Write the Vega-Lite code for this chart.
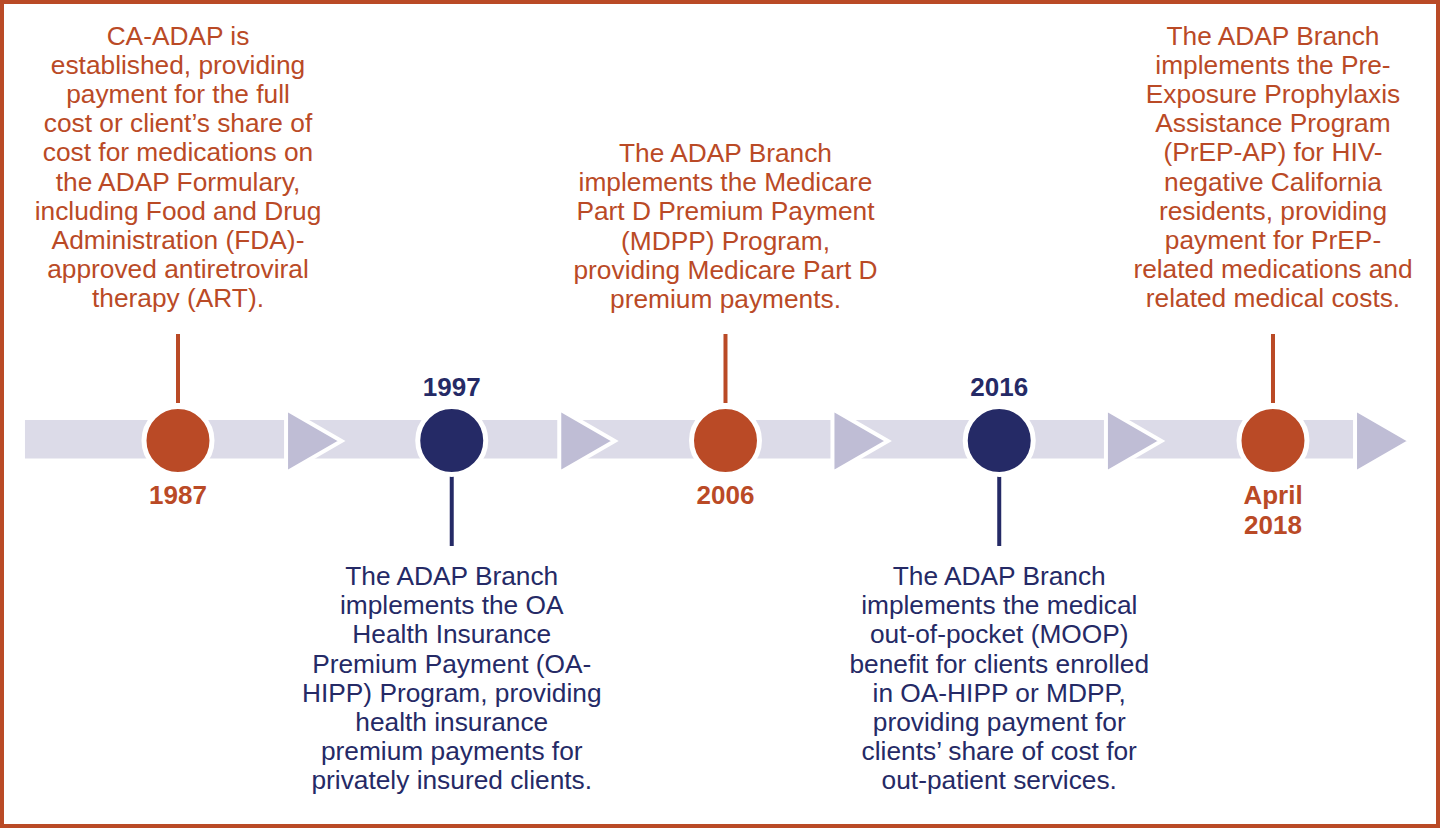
{
  "$schema": "https://vega.github.io/schema/vega-lite/v6.json",
  "width": 1440,
  "height": 828,
  "autosize": {"type": "fit", "contains": "padding"},
  "padding": 0,
  "background": "white",
  "config": {"view": {"stroke": "#BA4A26", "strokeWidth": 8}, "font": "Liberation Sans"},
  "datasets": {
    "events": [
      {"order": 0, "year": "1987", "label": ["1987"], "side": "above", "text": ["CA-ADAP is", "established, providing", "payment for the full", "cost or client’s share of", "cost for medications on", "the ADAP Formulary,", "including Food and Drug", "Administration (FDA)-", "approved antiretroviral", "therapy (ART)."]},
      {"order": 1, "year": "1997", "label": ["1997"], "side": "below", "text": ["The ADAP Branch", "implements the OA", "Health Insurance", "Premium Payment (OA-", "HIPP) Program, providing", "health insurance", "premium payments for", "privately insured clients."]},
      {"order": 2, "year": "2006", "label": ["2006"], "side": "above", "text": ["The ADAP Branch", "implements the Medicare", "Part D Premium Payment", "(MDPP) Program,", "providing Medicare Part D", "premium payments."]},
      {"order": 3, "year": "2016", "label": ["2016"], "side": "below", "text": ["The ADAP Branch", "implements the medical", "out-of-pocket (MOOP)", "benefit for clients enrolled", "in OA-HIPP or MDPP,", "providing payment for", "clients’ share of cost for", "out-patient services."]},
      {"order": 4, "year": "April 2018", "label": ["April", "2018"], "side": "above", "text": ["The ADAP Branch", "implements the Pre-", "Exposure Prophylaxis", "Assistance Program", "(PrEP-AP) for HIV-", "negative California", "residents, providing", "payment for PrEP-", "related medications and", "related medical costs."]}
    ],
    "arrows": [
      {"after": "1987", "pos": 0.496},
      {"after": "1997", "pos": 1.494},
      {"after": "2006", "pos": 2.492},
      {"after": "2016", "pos": 3.491},
      {"after": "April 2018", "pos": 4.401}
    ],
    "track": [{"start": -0.559, "end": 4.354}]
  },
  "layer": [
    {
      "data": {"name": "track"},
      "mark": {"type": "rect", "fill": "#DCDBE8"},
      "encoding": {
        "x": {"field": "start", "type": "quantitative", "scale": {"domain": [-0.6502, 4.6101], "nice": false, "zero": false}, "axis": null},
        "x2": {"field": "end"},
        "y": {"datum": 20, "type": "quantitative", "scale": {"domain": [-388, 440], "nice": false, "zero": false}, "axis": null},
        "y2": {"datum": -18.5}
      }
    },
    {
      "data": {"name": "arrows"},
      "mark": {"type": "point", "shape": "triangle-right", "filled": true, "fill": "#BFBDD5", "stroke": "white", "strokeWidth": 4, "size": 4096, "opacity": 1},
      "encoding": {
        "x": {"field": "pos", "type": "quantitative", "scale": {"domain": [-0.6502, 4.6101], "nice": false, "zero": false}, "axis": null},
        "y": {"datum": -1, "type": "quantitative", "scale": {"domain": [-388, 440], "nice": false, "zero": false}, "axis": null}
      }
    },
    {
      "data": {"name": "events"},
      "transform": [{"filter": "datum.side === 'above'"}],
      "mark": {"type": "rule", "strokeWidth": 4},
      "encoding": {
        "x": {"field": "order", "type": "quantitative", "scale": {"domain": [-0.6502, 4.6101], "nice": false, "zero": false}, "axis": null},
        "y": {"datum": 106, "type": "quantitative", "scale": {"domain": [-388, 440], "nice": false, "zero": false}, "axis": null},
        "y2": {"datum": 37},
        "color": {"field": "side", "type": "nominal", "scale": {"domain": ["above", "below"], "range": ["#BA4A26", "#252A66"]}, "legend": null}
      }
    },
    {
      "data": {"name": "events"},
      "transform": [{"filter": "datum.side === 'below'"}],
      "mark": {"type": "rule", "strokeWidth": 4},
      "encoding": {
        "x": {"field": "order", "type": "quantitative", "scale": {"domain": [-0.6502, 4.6101], "nice": false, "zero": false}, "axis": null},
        "y": {"datum": -36, "type": "quantitative", "scale": {"domain": [-388, 440], "nice": false, "zero": false}, "axis": null},
        "y2": {"datum": -106},
        "color": {"field": "side", "type": "nominal", "scale": {"domain": ["above", "below"], "range": ["#BA4A26", "#252A66"]}, "legend": null}
      }
    },
    {
      "data": {"name": "events"},
      "mark": {"type": "point", "shape": "circle", "filled": true, "size": 4624, "stroke": "white", "strokeWidth": 5, "opacity": 1},
      "encoding": {
        "x": {"field": "order", "type": "quantitative", "scale": {"domain": [-0.6502, 4.6101], "nice": false, "zero": false}, "axis": null},
        "y": {"datum": -0.5, "type": "quantitative", "scale": {"domain": [-388, 440], "nice": false, "zero": false}, "axis": null},
        "color": {"field": "side", "type": "nominal", "scale": {"domain": ["above", "below"], "range": ["#BA4A26", "#252A66"]}, "legend": null}
      }
    },
    {
      "data": {"name": "events"},
      "transform": [{"filter": "datum.side === 'above'"}],
      "mark": {"type": "text", "fontSize": 26, "fontWeight": "bold", "align": "center", "baseline": "alphabetic", "lineHeight": 29.5},
      "encoding": {
        "x": {"field": "order", "type": "quantitative", "scale": {"domain": [-0.6502, 4.6101], "nice": false, "zero": false}, "axis": null},
        "y": {"datum": -64, "type": "quantitative", "scale": {"domain": [-388, 440], "nice": false, "zero": false}, "axis": null},
        "text": {"field": "label"},
        "color": {"field": "side", "type": "nominal", "scale": {"domain": ["above", "below"], "range": ["#BA4A26", "#252A66"]}, "legend": null}
      }
    },
    {
      "data": {"name": "events"},
      "transform": [{"filter": "datum.side === 'below'"}],
      "mark": {"type": "text", "fontSize": 26, "fontWeight": "bold", "align": "center", "baseline": "alphabetic", "lineHeight": 29.5},
      "encoding": {
        "x": {"field": "order", "type": "quantitative", "scale": {"domain": [-0.6502, 4.6101], "nice": false, "zero": false}, "axis": null},
        "y": {"datum": 44.5, "type": "quantitative", "scale": {"domain": [-388, 440], "nice": false, "zero": false}, "axis": null},
        "text": {"field": "label"},
        "color": {"field": "side", "type": "nominal", "scale": {"domain": ["above", "below"], "range": ["#BA4A26", "#252A66"]}, "legend": null}
      }
    },
    {
      "data": {"name": "events"},
      "transform": [{"filter": "datum.side === 'above' && datum.text.length === 10"}],
      "mark": {"type": "text", "fontSize": 26.3, "align": "center", "baseline": "alphabetic", "lineHeight": 29.1},
      "encoding": {
        "x": {"field": "order", "type": "quantitative", "scale": {"domain": [-0.6502, 4.6101], "nice": false, "zero": false}, "axis": null},
        "y": {"datum": 395, "type": "quantitative", "scale": {"domain": [-388, 440], "nice": false, "zero": false}, "axis": null},
        "text": {"field": "text"},
        "color": {"field": "side", "type": "nominal", "scale": {"domain": ["above", "below"], "range": ["#BA4A26", "#252A66"]}, "legend": null}
      }
    },
    {
      "data": {"name": "events"},
      "transform": [{"filter": "datum.side === 'above' && datum.text.length === 6"}],
      "mark": {"type": "text", "fontSize": 26.3, "align": "center", "baseline": "alphabetic", "lineHeight": 29.2},
      "encoding": {
        "x": {"field": "order", "type": "quantitative", "scale": {"domain": [-0.6502, 4.6101], "nice": false, "zero": false}, "axis": null},
        "y": {"datum": 278, "type": "quantitative", "scale": {"domain": [-388, 440], "nice": false, "zero": false}, "axis": null},
        "text": {"field": "text"},
        "color": {"field": "side", "type": "nominal", "scale": {"domain": ["above", "below"], "range": ["#BA4A26", "#252A66"]}, "legend": null}
      }
    },
    {
      "data": {"name": "events"},
      "transform": [{"filter": "datum.side === 'below'"}],
      "mark": {"type": "text", "fontSize": 26.3, "align": "center", "baseline": "top", "lineHeight": 29.2},
      "encoding": {
        "x": {"field": "order", "type": "quantitative", "scale": {"domain": [-0.6502, 4.6101], "nice": false, "zero": false}, "axis": null},
        "y": {"datum": -124, "type": "quantitative", "scale": {"domain": [-388, 440], "nice": false, "zero": false}, "axis": null},
        "text": {"field": "text"},
        "color": {"field": "side", "type": "nominal", "scale": {"domain": ["above", "below"], "range": ["#BA4A26", "#252A66"]}, "legend": null}
      }
    }
  ]
}
